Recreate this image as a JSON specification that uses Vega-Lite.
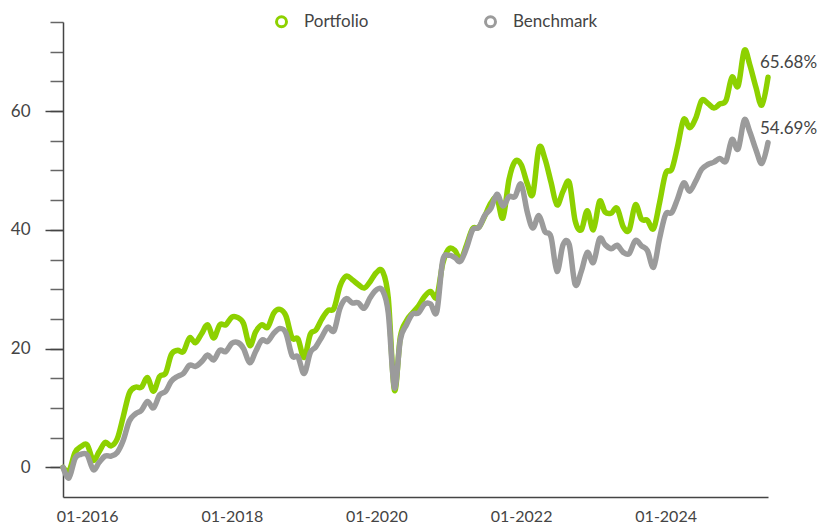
{
  "$schema": "https://vega.github.io/schema/vega-lite/v6.json",
  "width": 705,
  "height": 475,
  "autosize": "none",
  "padding": {"left": 63, "top": 22, "right": 57, "bottom": 29},
  "background": "white",
  "config": {"view": {"stroke": null}, "font": "Lato"},
  "data": {"values": [
    {"date":"2015-09-01","series":"Portfolio","value":0},
    {"date":"2015-10-01","series":"Portfolio","value":-0.6},
    {"date":"2015-11-01","series":"Portfolio","value":2.5},
    {"date":"2015-12-01","series":"Portfolio","value":3.5},
    {"date":"2016-01-01","series":"Portfolio","value":3.8},
    {"date":"2016-02-01","series":"Portfolio","value":1.2},
    {"date":"2016-03-01","series":"Portfolio","value":2.6},
    {"date":"2016-04-01","series":"Portfolio","value":4.2},
    {"date":"2016-05-01","series":"Portfolio","value":3.6},
    {"date":"2016-06-01","series":"Portfolio","value":4.8},
    {"date":"2016-07-01","series":"Portfolio","value":8.5},
    {"date":"2016-08-01","series":"Portfolio","value":12.5},
    {"date":"2016-09-01","series":"Portfolio","value":13.5},
    {"date":"2016-10-01","series":"Portfolio","value":13.5},
    {"date":"2016-11-01","series":"Portfolio","value":15.1},
    {"date":"2016-12-01","series":"Portfolio","value":12.8},
    {"date":"2017-01-01","series":"Portfolio","value":15.3},
    {"date":"2017-02-01","series":"Portfolio","value":15.9},
    {"date":"2017-03-01","series":"Portfolio","value":19.0},
    {"date":"2017-04-01","series":"Portfolio","value":19.7},
    {"date":"2017-05-01","series":"Portfolio","value":19.5},
    {"date":"2017-06-01","series":"Portfolio","value":21.8},
    {"date":"2017-07-01","series":"Portfolio","value":21.0},
    {"date":"2017-08-01","series":"Portfolio","value":22.5},
    {"date":"2017-09-01","series":"Portfolio","value":24.0},
    {"date":"2017-10-01","series":"Portfolio","value":21.8},
    {"date":"2017-11-01","series":"Portfolio","value":24.0},
    {"date":"2017-12-01","series":"Portfolio","value":24.0},
    {"date":"2018-01-01","series":"Portfolio","value":25.3},
    {"date":"2018-02-01","series":"Portfolio","value":25.2},
    {"date":"2018-03-01","series":"Portfolio","value":24.2},
    {"date":"2018-04-01","series":"Portfolio","value":20.5},
    {"date":"2018-05-01","series":"Portfolio","value":22.8},
    {"date":"2018-06-01","series":"Portfolio","value":24.0},
    {"date":"2018-07-01","series":"Portfolio","value":23.6},
    {"date":"2018-08-01","series":"Portfolio","value":26.0},
    {"date":"2018-09-01","series":"Portfolio","value":26.6},
    {"date":"2018-10-01","series":"Portfolio","value":25.5},
    {"date":"2018-11-01","series":"Portfolio","value":21.8},
    {"date":"2018-12-01","series":"Portfolio","value":21.6},
    {"date":"2019-01-01","series":"Portfolio","value":18.5},
    {"date":"2019-02-01","series":"Portfolio","value":22.4},
    {"date":"2019-03-01","series":"Portfolio","value":23.1},
    {"date":"2019-04-01","series":"Portfolio","value":25.0},
    {"date":"2019-05-01","series":"Portfolio","value":26.4},
    {"date":"2019-06-01","series":"Portfolio","value":26.8},
    {"date":"2019-07-01","series":"Portfolio","value":30.5},
    {"date":"2019-08-01","series":"Portfolio","value":32.2},
    {"date":"2019-09-01","series":"Portfolio","value":31.6},
    {"date":"2019-10-01","series":"Portfolio","value":30.8},
    {"date":"2019-11-01","series":"Portfolio","value":30.2},
    {"date":"2019-12-01","series":"Portfolio","value":31.3},
    {"date":"2020-01-01","series":"Portfolio","value":32.8},
    {"date":"2020-02-01","series":"Portfolio","value":33.0},
    {"date":"2020-03-01","series":"Portfolio","value":28.5},
    {"date":"2020-04-01","series":"Portfolio","value":13.0},
    {"date":"2020-05-01","series":"Portfolio","value":22.0},
    {"date":"2020-06-01","series":"Portfolio","value":24.7},
    {"date":"2020-07-01","series":"Portfolio","value":26.0},
    {"date":"2020-08-01","series":"Portfolio","value":27.2},
    {"date":"2020-09-01","series":"Portfolio","value":28.8},
    {"date":"2020-10-01","series":"Portfolio","value":29.6},
    {"date":"2020-11-01","series":"Portfolio","value":28.7},
    {"date":"2020-12-01","series":"Portfolio","value":34.3},
    {"date":"2021-01-01","series":"Portfolio","value":36.8},
    {"date":"2021-02-01","series":"Portfolio","value":36.5},
    {"date":"2021-03-01","series":"Portfolio","value":35.0},
    {"date":"2021-04-01","series":"Portfolio","value":37.5},
    {"date":"2021-05-01","series":"Portfolio","value":40.2},
    {"date":"2021-06-01","series":"Portfolio","value":40.4},
    {"date":"2021-07-01","series":"Portfolio","value":42.3},
    {"date":"2021-08-01","series":"Portfolio","value":44.5},
    {"date":"2021-09-01","series":"Portfolio","value":45.3},
    {"date":"2021-10-01","series":"Portfolio","value":42.0},
    {"date":"2021-11-01","series":"Portfolio","value":48.5},
    {"date":"2021-12-01","series":"Portfolio","value":51.5},
    {"date":"2022-01-01","series":"Portfolio","value":51.0},
    {"date":"2022-02-01","series":"Portfolio","value":47.8},
    {"date":"2022-03-01","series":"Portfolio","value":46.0},
    {"date":"2022-04-01","series":"Portfolio","value":53.8},
    {"date":"2022-05-01","series":"Portfolio","value":52.0},
    {"date":"2022-06-01","series":"Portfolio","value":48.0},
    {"date":"2022-07-01","series":"Portfolio","value":44.2},
    {"date":"2022-08-01","series":"Portfolio","value":46.5},
    {"date":"2022-09-01","series":"Portfolio","value":48.0},
    {"date":"2022-10-01","series":"Portfolio","value":41.5},
    {"date":"2022-11-01","series":"Portfolio","value":40.0},
    {"date":"2022-12-01","series":"Portfolio","value":43.2},
    {"date":"2023-01-01","series":"Portfolio","value":40.0},
    {"date":"2023-02-01","series":"Portfolio","value":44.8},
    {"date":"2023-03-01","series":"Portfolio","value":43.0},
    {"date":"2023-04-01","series":"Portfolio","value":42.8},
    {"date":"2023-05-01","series":"Portfolio","value":43.6},
    {"date":"2023-06-01","series":"Portfolio","value":40.5},
    {"date":"2023-07-01","series":"Portfolio","value":40.0},
    {"date":"2023-08-01","series":"Portfolio","value":44.2},
    {"date":"2023-09-01","series":"Portfolio","value":41.8},
    {"date":"2023-10-01","series":"Portfolio","value":41.6},
    {"date":"2023-11-01","series":"Portfolio","value":40.2},
    {"date":"2023-12-01","series":"Portfolio","value":44.5},
    {"date":"2024-01-01","series":"Portfolio","value":49.5},
    {"date":"2024-02-01","series":"Portfolio","value":50.2},
    {"date":"2024-03-01","series":"Portfolio","value":54.0},
    {"date":"2024-04-01","series":"Portfolio","value":58.6},
    {"date":"2024-05-01","series":"Portfolio","value":57.2},
    {"date":"2024-06-01","series":"Portfolio","value":58.8},
    {"date":"2024-07-01","series":"Portfolio","value":61.8},
    {"date":"2024-08-01","series":"Portfolio","value":61.3},
    {"date":"2024-09-01","series":"Portfolio","value":60.5},
    {"date":"2024-10-01","series":"Portfolio","value":61.2},
    {"date":"2024-11-01","series":"Portfolio","value":61.8},
    {"date":"2024-12-01","series":"Portfolio","value":65.7},
    {"date":"2025-01-01","series":"Portfolio","value":64.2},
    {"date":"2025-02-01","series":"Portfolio","value":70.2},
    {"date":"2025-03-01","series":"Portfolio","value":67.8},
    {"date":"2025-04-01","series":"Portfolio","value":64.0},
    {"date":"2025-05-01","series":"Portfolio","value":61.0},
    {"date":"2025-06-01","series":"Portfolio","value":65.68},
    {"date":"2015-09-01","series":"Benchmark","value":0},
    {"date":"2015-10-01","series":"Benchmark","value":-1.8},
    {"date":"2015-11-01","series":"Benchmark","value":1.5},
    {"date":"2015-12-01","series":"Benchmark","value":2.2},
    {"date":"2016-01-01","series":"Benchmark","value":2.1},
    {"date":"2016-02-01","series":"Benchmark","value":-0.4},
    {"date":"2016-03-01","series":"Benchmark","value":0.8},
    {"date":"2016-04-01","series":"Benchmark","value":1.9},
    {"date":"2016-05-01","series":"Benchmark","value":1.9},
    {"date":"2016-06-01","series":"Benchmark","value":2.5},
    {"date":"2016-07-01","series":"Benchmark","value":4.5},
    {"date":"2016-08-01","series":"Benchmark","value":7.8},
    {"date":"2016-09-01","series":"Benchmark","value":9.0},
    {"date":"2016-10-01","series":"Benchmark","value":9.6},
    {"date":"2016-11-01","series":"Benchmark","value":11.1},
    {"date":"2016-12-01","series":"Benchmark","value":10.0},
    {"date":"2017-01-01","series":"Benchmark","value":12.2},
    {"date":"2017-02-01","series":"Benchmark","value":12.8},
    {"date":"2017-03-01","series":"Benchmark","value":14.5},
    {"date":"2017-04-01","series":"Benchmark","value":15.3},
    {"date":"2017-05-01","series":"Benchmark","value":15.8},
    {"date":"2017-06-01","series":"Benchmark","value":17.2},
    {"date":"2017-07-01","series":"Benchmark","value":17.0},
    {"date":"2017-08-01","series":"Benchmark","value":17.8},
    {"date":"2017-09-01","series":"Benchmark","value":18.9},
    {"date":"2017-10-01","series":"Benchmark","value":18.1},
    {"date":"2017-11-01","series":"Benchmark","value":19.7},
    {"date":"2017-12-01","series":"Benchmark","value":19.5},
    {"date":"2018-01-01","series":"Benchmark","value":20.9},
    {"date":"2018-02-01","series":"Benchmark","value":21.0},
    {"date":"2018-03-01","series":"Benchmark","value":20.0},
    {"date":"2018-04-01","series":"Benchmark","value":17.6},
    {"date":"2018-05-01","series":"Benchmark","value":19.5},
    {"date":"2018-06-01","series":"Benchmark","value":21.4},
    {"date":"2018-07-01","series":"Benchmark","value":21.2},
    {"date":"2018-08-01","series":"Benchmark","value":22.6},
    {"date":"2018-09-01","series":"Benchmark","value":23.4},
    {"date":"2018-10-01","series":"Benchmark","value":22.6},
    {"date":"2018-11-01","series":"Benchmark","value":18.8},
    {"date":"2018-12-01","series":"Benchmark","value":18.6},
    {"date":"2019-01-01","series":"Benchmark","value":15.8},
    {"date":"2019-02-01","series":"Benchmark","value":19.3},
    {"date":"2019-03-01","series":"Benchmark","value":20.3},
    {"date":"2019-04-01","series":"Benchmark","value":22.0},
    {"date":"2019-05-01","series":"Benchmark","value":23.6},
    {"date":"2019-06-01","series":"Benchmark","value":23.0},
    {"date":"2019-07-01","series":"Benchmark","value":26.8},
    {"date":"2019-08-01","series":"Benchmark","value":28.4},
    {"date":"2019-09-01","series":"Benchmark","value":27.7},
    {"date":"2019-10-01","series":"Benchmark","value":27.7},
    {"date":"2019-11-01","series":"Benchmark","value":26.8},
    {"date":"2019-12-01","series":"Benchmark","value":28.6},
    {"date":"2020-01-01","series":"Benchmark","value":29.9},
    {"date":"2020-02-01","series":"Benchmark","value":29.8},
    {"date":"2020-03-01","series":"Benchmark","value":26.0},
    {"date":"2020-04-01","series":"Benchmark","value":13.4},
    {"date":"2020-05-01","series":"Benchmark","value":21.5},
    {"date":"2020-06-01","series":"Benchmark","value":24.0},
    {"date":"2020-07-01","series":"Benchmark","value":25.8},
    {"date":"2020-08-01","series":"Benchmark","value":26.0},
    {"date":"2020-09-01","series":"Benchmark","value":27.5},
    {"date":"2020-10-01","series":"Benchmark","value":27.5},
    {"date":"2020-11-01","series":"Benchmark","value":26.2},
    {"date":"2020-12-01","series":"Benchmark","value":34.8},
    {"date":"2021-01-01","series":"Benchmark","value":35.7},
    {"date":"2021-02-01","series":"Benchmark","value":35.3},
    {"date":"2021-03-01","series":"Benchmark","value":34.7},
    {"date":"2021-04-01","series":"Benchmark","value":37.0},
    {"date":"2021-05-01","series":"Benchmark","value":40.0},
    {"date":"2021-06-01","series":"Benchmark","value":40.4},
    {"date":"2021-07-01","series":"Benchmark","value":42.4},
    {"date":"2021-08-01","series":"Benchmark","value":43.6},
    {"date":"2021-09-01","series":"Benchmark","value":46.0},
    {"date":"2021-10-01","series":"Benchmark","value":44.0},
    {"date":"2021-11-01","series":"Benchmark","value":45.6},
    {"date":"2021-12-01","series":"Benchmark","value":45.6},
    {"date":"2022-01-01","series":"Benchmark","value":47.7},
    {"date":"2022-02-01","series":"Benchmark","value":43.0},
    {"date":"2022-03-01","series":"Benchmark","value":40.3},
    {"date":"2022-04-01","series":"Benchmark","value":42.4},
    {"date":"2022-05-01","series":"Benchmark","value":39.7},
    {"date":"2022-06-01","series":"Benchmark","value":38.8},
    {"date":"2022-07-01","series":"Benchmark","value":33.0},
    {"date":"2022-08-01","series":"Benchmark","value":37.5},
    {"date":"2022-09-01","series":"Benchmark","value":37.5},
    {"date":"2022-10-01","series":"Benchmark","value":30.8},
    {"date":"2022-11-01","series":"Benchmark","value":33.0},
    {"date":"2022-12-01","series":"Benchmark","value":36.2},
    {"date":"2023-01-01","series":"Benchmark","value":34.5},
    {"date":"2023-02-01","series":"Benchmark","value":38.5},
    {"date":"2023-03-01","series":"Benchmark","value":37.5},
    {"date":"2023-04-01","series":"Benchmark","value":36.8},
    {"date":"2023-05-01","series":"Benchmark","value":37.4},
    {"date":"2023-06-01","series":"Benchmark","value":36.2},
    {"date":"2023-07-01","series":"Benchmark","value":36.0},
    {"date":"2023-08-01","series":"Benchmark","value":38.2},
    {"date":"2023-09-01","series":"Benchmark","value":37.3},
    {"date":"2023-10-01","series":"Benchmark","value":36.5},
    {"date":"2023-11-01","series":"Benchmark","value":33.7},
    {"date":"2023-12-01","series":"Benchmark","value":38.5},
    {"date":"2024-01-01","series":"Benchmark","value":42.6},
    {"date":"2024-02-01","series":"Benchmark","value":42.9},
    {"date":"2024-03-01","series":"Benchmark","value":45.2},
    {"date":"2024-04-01","series":"Benchmark","value":47.9},
    {"date":"2024-05-01","series":"Benchmark","value":46.5},
    {"date":"2024-06-01","series":"Benchmark","value":48.2},
    {"date":"2024-07-01","series":"Benchmark","value":50.2},
    {"date":"2024-08-01","series":"Benchmark","value":51.0},
    {"date":"2024-09-01","series":"Benchmark","value":51.4},
    {"date":"2024-10-01","series":"Benchmark","value":52.0},
    {"date":"2024-11-01","series":"Benchmark","value":51.6},
    {"date":"2024-12-01","series":"Benchmark","value":55.2},
    {"date":"2025-01-01","series":"Benchmark","value":53.6},
    {"date":"2025-02-01","series":"Benchmark","value":58.5},
    {"date":"2025-03-01","series":"Benchmark","value":56.5},
    {"date":"2025-04-01","series":"Benchmark","value":53.5},
    {"date":"2025-05-01","series":"Benchmark","value":51.2},
    {"date":"2025-06-01","series":"Benchmark","value":54.69}
  ]},
  "encoding": {
    "x": {
      "field": "date", "type": "temporal",
      "scale": {"domain": ["2015-09-01", "2025-06-01"], "nice": false},
      "axis": {
        "title": null, "grid": false, "ticks": false,
        "values": ["2016-01-01", "2018-01-01", "2020-01-01", "2022-01-01", "2024-01-01"],
        "format": "%m-%Y", "labelFlush": false, "labelOverlap": false,
        "labelPadding": 11, "labelFontSize": 16, "labelFont": "Lato", "labelColor": "#444444",
        "domainColor": "#444444", "domainWidth": 1.5
      }
    }
  },
  "layer": [
    {
      "mark": {"type": "line", "interpolate": "cardinal", "strokeWidth": 5.5, "strokeCap": "round", "strokeJoin": "round"},
      "encoding": {
        "y": {
          "field": "value", "type": "quantitative",
          "scale": {"domain": [-5, 75], "nice": false, "zero": false},
          "axis": {
            "orient": "left", "title": null, "grid": false, "labels": false,
            "values": [0, 5, 10, 15, 20, 25, 30, 35, 40, 45, 50, 55, 60, 65, 70, 75],
            "tickSize": 13, "tickColor": "#666666", "tickWidth": 1.5,
            "domainColor": "#444444", "domainWidth": 1.5
          }
        },
        "color": {
          "field": "series", "type": "nominal",
          "scale": {"domain": ["Portfolio", "Benchmark"], "range": ["#8dd100", "#9b9b9b"]},
          "legend": {
            "title": null, "orient": "none", "legendX": 210, "legendY": -9,
            "direction": "horizontal", "symbolType": "circle", "symbolSize": 100,
            "symbolStrokeWidth": 3, "symbolFillColor": "white",
            "labelFontSize": 17, "labelFont": "Lato", "labelColor": "#444444",
            "labelOffset": 14, "columnPadding": 110, "padding": 0
          }
        }
      }
    },
    {
      "transform": [
        {"joinaggregate": [{"op": "max", "field": "date", "as": "last"}]},
        {"filter": "time(datum.date) === time(datum.last)"},
        {"calculate": "format(datum.value, '.2f') + '%'", "as": "label"}
      ],
      "mark": {"type": "text", "align": "left", "baseline": "middle", "dx": -8, "dy": -14, "fontSize": 17, "font": "Lato", "color": "#444444"},
      "encoding": {
        "y": {
          "field": "value", "type": "quantitative",
          "axis": {
            "orient": "left", "title": null, "grid": false, "domain": false,
            "values": [0, 20, 40, 60],
            "tickSize": 18, "tickColor": "#444444", "tickWidth": 1.5,
            "labelPadding": 15, "labelFontSize": 17, "labelFont": "Lato", "labelColor": "#444444"
          }
        },
        "text": {"field": "label", "type": "nominal"}
      }
    }
  ],
  "resolve": {"axis": {"y": "independent"}}
}
